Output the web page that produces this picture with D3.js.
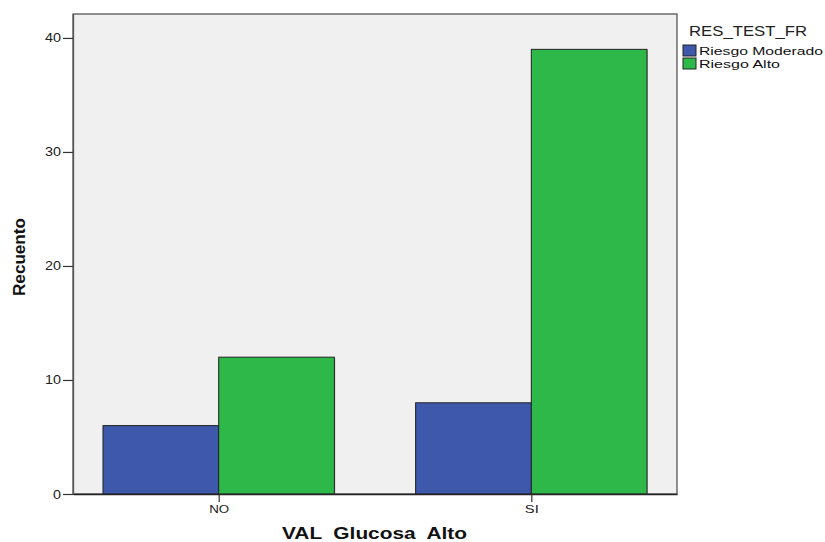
<!DOCTYPE html>
<html><head><meta charset="utf-8">
<script src="https://cdn.jsdelivr.net/npm/d3@7"></script>
<style>body{margin:0;background:#fff}svg{display:block}text{font-family:"Liberation Sans",Arial,sans-serif}</style>
</head><body>
<script>
const categories = ["NO", "SI"];
const seriesNames = ["Riesgo Moderado", "Riesgo Alto"];
const riesgoModerado = [6, 8];
const riesgoAlto = [12, 39];
const yTicks = [0, 10, 20, 30, 40];
const colors = ["#3e58ac", "#2eb84a"];

const W = 825, H = 542;
const svg = d3.select("body").append("svg").attr("width", W).attr("height", H);
const pLeft = 73, pRight = 677, pTop = 14, pBottom = 494;

svg.append("rect").attr("x", pLeft).attr("y", pTop).attr("width", pRight - pLeft).attr("height", pBottom - pTop)
  .attr("fill", "#f0f0f0").attr("stroke", "#555").attr("stroke-width", 1.3);

const y = d3.scaleLinear().domain([0, 42.1]).range([pBottom, pTop]);
const x = d3.scalePoint().domain(categories).range([pLeft, pRight]).padding(0.466);
const barW = 115.7;

const data = categories.map((c, i) => ({c, vals: [riesgoModerado[i], riesgoAlto[i]]}));
const g = svg.append("g");
data.forEach(d => {
  d.vals.forEach((v, j) => {
    const x0 = j === 0 ? x(d.c) - barW : x(d.c);
    g.append("rect").attr("x", x0 + 1).attr("y", y(v) + 1).attr("width", barW).attr("height", pBottom - y(v) - 1)
      .attr("fill", "#999").attr("opacity", 0.6);
    g.append("rect").attr("x", x0).attr("y", y(v)).attr("width", barW).attr("height", pBottom - y(v))
      .attr("fill", colors[j]).attr("stroke", "#222").attr("stroke-width", 1);
  });
});

// axes
const ya = svg.append("g").attr("transform", `translate(${pLeft},0)`)
  .call(d3.axisLeft(y).tickValues(yTicks).tickSize(10).tickSizeOuter(0).tickPadding(2));
ya.select(".domain").attr("stroke", "#555").attr("stroke-width", 1.3);
ya.selectAll(".tick line").attr("stroke", "#333").attr("stroke-width", 1.2);
ya.selectAll(".tick text").attr("font-size", 12.5).attr("fill", "#222")
  .attr("font-family", "'Liberation Sans',Arial,sans-serif")
  .attr("textLength", d => d === 0 ? 8 : 16).attr("lengthAdjust", "spacingAndGlyphs");

const xa = svg.append("g").attr("transform", `translate(0,${pBottom})`)
  .call(d3.axisBottom(x).tickSize(8).tickSizeOuter(0).tickPadding(3));
xa.select(".domain").attr("stroke", "#222").attr("stroke-width", 1.3);
xa.selectAll(".tick line").attr("stroke", "#333").attr("stroke-width", 1.2);
xa.selectAll(".tick text").attr("font-size", 11.5).attr("fill", "#222")
  .attr("font-family", "'Liberation Sans',Arial,sans-serif")
  .attr("textLength", d => d === "NO" ? 20 : 14).attr("lengthAdjust", "spacingAndGlyphs");

svg.append("text").attr("x", 282).attr("y", 539)
  .attr("font-size", 16.5).attr("font-weight", "bold").attr("fill", "#111")
  .attr("textLength", 185).attr("lengthAdjust", "spacingAndGlyphs")
  .attr("xml:space", "preserve").style("white-space", "pre").text("VAL  Glucosa  Alto");

svg.append("text").attr("transform", `translate(25,296) rotate(-90)`)
  .attr("font-size", 17).attr("font-weight", "bold").attr("fill", "#111")
  .attr("textLength", 78).attr("lengthAdjust", "spacingAndGlyphs").text("Recuento");

// legend
svg.append("text").attr("x", 689).attr("y", 36).attr("font-size", 14.5).attr("fill", "#222")
  .attr("textLength", 118).attr("lengthAdjust", "spacingAndGlyphs").text("RES_TEST_FR");
const legendLens = [124, 81];
seriesNames.forEach((n, i) => {
  const yy = 44 + i * 13;
  svg.append("rect").attr("x", 683).attr("y", yy + 1).attr("width", 13).attr("height", 11)
    .attr("fill", colors[i]).attr("stroke", "#222").attr("stroke-width", 1);
  svg.append("text").attr("x", 699).attr("y", yy + 11).attr("font-size", 11.5).attr("fill", "#111")
    .attr("textLength", legendLens[i]).attr("lengthAdjust", "spacingAndGlyphs").text(n);
});
</script>
</body></html>
